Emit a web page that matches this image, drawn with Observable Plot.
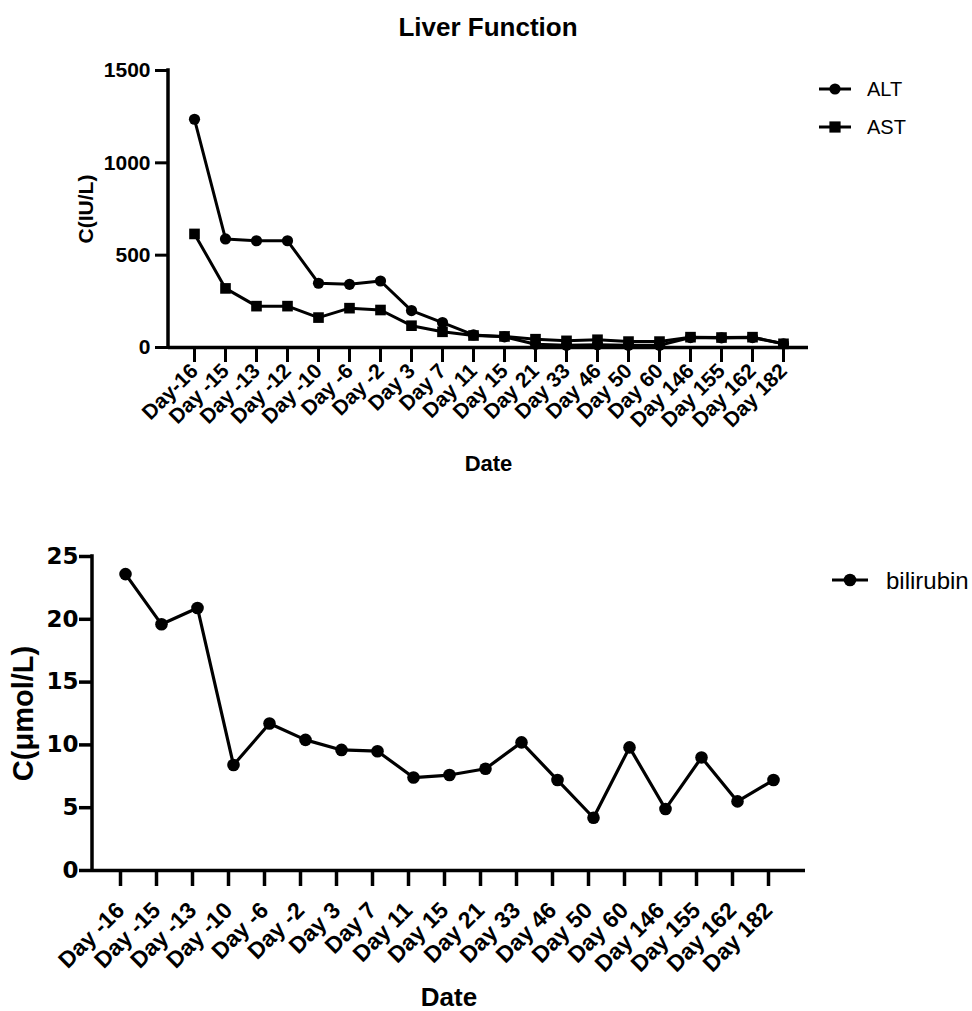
<!DOCTYPE html>
<html>
<head>
<meta charset="utf-8">
<script src="https://cdn.jsdelivr.net/npm/d3@7"></script>
<script src="https://cdn.jsdelivr.net/npm/@observablehq/plot@0.6"></script>
<style>
  body { margin: 0; background: #fff; }
  #root { position: relative; width: 972px; height: 1011px; font-family: "Liberation Sans", Arial, Helvetica, sans-serif; color: #000; overflow: hidden; }
  #title { position: absolute; left: 2px; width: 972px; top: 14px; text-align: center; font-size: 26px; line-height: 1; font-weight: bold; }
  .plot { position: absolute; left: 0; }
  .legend { position: absolute; }
</style>
</head>
<body>
<div id="root">
  <div id="title">Liver Function</div>
</div>
<script>
// ---------- data ----------
const topDates = ["Day-16", "Day -15", "Day -13", "Day -12", "Day -10", "Day -6", "Day -2", "Day 3", "Day 7", "Day 11",
                  "Day 15", "Day 21", "Day 33", "Day 46", "Day 50", "Day 60", "Day 146", "Day 155", "Day 162", "Day 182"];
const altValues = [1236, 588, 578, 578, 348, 342, 360, 200, 135, 68, 58, 18, 12, 15, 12, 12, 54, 52, 54, 20];
const astValues = [615, 320, 224, 224, 162, 213, 203, 118, 85, 65, 60, 45, 36, 42, 32, 32, 56, 54, 56, 20];
const topTicks = [0, 500, 1000, 1500];

const botDates = ["Day -16", "Day -15", "Day -13", "Day -10", "Day -6", "Day -2", "Day 3", "Day 7", "Day 11", "Day 15",
                  "Day 21", "Day 33", "Day 46", "Day 50", "Day 60", "Day 146", "Day 155", "Day 162", "Day 182"];
const biliValues = [23.6, 19.6, 20.9, 8.4, 11.7, 10.4, 9.6, 9.5, 7.4, 7.6, 8.1, 10.2, 7.2, 4.2, 9.8, 4.9, 9.0, 5.5, 7.2];
const botTicks = [0, 5, 10, 15, 20, 25];

const seriesNames = ["ALT", "AST"];
const biliName = "bilirubin";

// ---------- tables ----------
const liver = topDates.flatMap((d, i) => [
  {date: d, series: "ALT", value: altValues[i]},
  {date: d, series: "AST", value: astValues[i]}
]);
const bili = botDates.map((d, i) => ({date: d, value: biliValues[i]}));

const FONT = '"Liberation Sans", Arial, Helvetica, sans-serif';
const WIDE = '"DejaVu Sans", "Liberation Sans", sans-serif';
const root = document.getElementById("root");
const fmt = d => String(d);

// left spine drawn from the frame dimensions
function leftSpine(sw) {
  return (index, scales, values, dims) => {
    const line = document.createElementNS("http://www.w3.org/2000/svg", "line");
    line.setAttribute("x1", dims.marginLeft);
    line.setAttribute("x2", dims.marginLeft);
    line.setAttribute("y1", dims.marginTop);
    line.setAttribute("y2", dims.height - dims.marginBottom);
    line.setAttribute("stroke", "#000");
    line.setAttribute("stroke-width", sw);
    line.setAttribute("stroke-linecap", "square");
    return line;
  };
}

// ---------- top chart ----------
const p1 = Plot.plot({
  width: 972, height: 440,
  marginLeft: 168, marginRight: 164, marginTop: 30, marginBottom: 133,
  style: {fontFamily: FONT, fontSize: "20px", fontWeight: "bold", color: "#000", background: "transparent", overflow: "visible"},
  x: {type: "point", domain: topDates, padding: 0.63},
  y: {domain: [0, 1500]},
  marks: [
    Plot.ruleY([0], {stroke: "#000", strokeWidth: 3.5}),
    leftSpine(3.5),
    Plot.axisY({ticks: topTicks, tickFormat: fmt, tickSize: 13, tickPadding: 5, strokeWidth: 3, fontSize: 21, label: null}),
    Plot.axisY({ticks: [], tickSize: 0, fontSize: 21, label: "C(IU/L)", labelAnchor: "center", labelOffset: 90, labelArrow: "none"}),
    Plot.axisX({tickSize: 15, strokeWidth: 3, tickRotate: -45, tickPadding: 5, fontSize: 21, label: null}),
    Plot.axisX({ticks: [], tickSize: 0, fontSize: 22, label: "Date", labelAnchor: "center", labelOffset: 123}),
    Plot.line(liver, {x: "date", y: "value", z: "series", stroke: "#000", strokeWidth: 3}),
    Plot.dot(liver, {filter: d => d.series === "ALT", x: "date", y: "value", symbol: "circle", r: 5.6, fill: "#000", stroke: "none"}),
    Plot.dot(liver, {filter: d => d.series === "AST", x: "date", y: "value", symbol: "square", r: 6, fill: "#000", stroke: "none"})
  ]
});
p1.classList.add("plot");
p1.style.top = "40px";
root.appendChild(p1);

// ---------- bottom chart ----------
const p2 = Plot.plot({
  width: 972, height: 511,
  marginLeft: 92, marginRight: 167, marginTop: 56, marginBottom: 141,
  style: {fontFamily: FONT, fontSize: "22px", fontWeight: "bold", color: "#000", background: "transparent", overflow: "visible"},
  x: {type: "point", domain: botDates, padding: 0.66},
  y: {domain: [0, 25]},
  marks: [
    Plot.ruleY([0], {stroke: "#000", strokeWidth: 3.5}),
    leftSpine(3.5),
    Plot.axisY({ticks: botTicks, tickFormat: fmt, tickSize: 13, tickPadding: 1, strokeWidth: 3.5, fontSize: 23, fontFamily: WIDE, label: null}),
    Plot.axisY({ticks: [], tickSize: 0, fontSize: 29, label: "C(μmol/L)", labelAnchor: "center", labelOffset: 80, labelArrow: "none"}),
    Plot.axisX({tickSize: 16, strokeWidth: 3.5, tickRotate: -45, tickPadding: 20, dx: -5, fontSize: 23, label: null}),
    Plot.axisX({ticks: [], tickSize: 0, fontSize: 26, label: "Date", labelAnchor: "center", labelOffset: 135}),
    Plot.line(bili, {x: "date", y: "value", stroke: "#000", strokeWidth: 3.2}),
    Plot.dot(bili, {x: "date", y: "value", r: 6.3, fill: "#000", stroke: "none"})
  ]
});
p2.classList.add("plot");
p2.style.top = "500px";
root.appendChild(p2);

// ---------- legends (HTML/SVG, outside the plots) ----------
const NS = "http://www.w3.org/2000/svg";
function legend(left, top, w, h, items, fontSize, lineLen, r) {
  const svg = document.createElementNS(NS, "svg");
  svg.setAttribute("class", "legend");
  svg.setAttribute("width", w);
  svg.setAttribute("height", h);
  svg.style.left = left + "px";
  svg.style.top = top + "px";
  items.forEach((it) => {
    const cy = it.cy;
    const ln = document.createElementNS(NS, "line");
    ln.setAttribute("x1", 0); ln.setAttribute("x2", lineLen);
    ln.setAttribute("y1", cy); ln.setAttribute("y2", cy);
    ln.setAttribute("stroke", "#000"); ln.setAttribute("stroke-width", 3);
    svg.appendChild(ln);
    let m;
    if (it.symbol === "square") {
      m = document.createElementNS(NS, "rect");
      m.setAttribute("x", lineLen / 2 - r); m.setAttribute("y", cy - r);
      m.setAttribute("width", 2 * r); m.setAttribute("height", 2 * r);
    } else {
      m = document.createElementNS(NS, "circle");
      m.setAttribute("cx", lineLen / 2); m.setAttribute("cy", cy); m.setAttribute("r", r);
    }
    m.setAttribute("fill", "#000");
    svg.appendChild(m);
    const t = document.createElementNS(NS, "text");
    t.setAttribute("x", lineLen + it.gap);
    t.setAttribute("y", cy);
    t.setAttribute("dy", "0.36em");
    t.setAttribute("font-family", FONT);
    t.setAttribute("font-size", fontSize);
    t.setAttribute("fill", "#000");
    t.textContent = it.name;
    svg.appendChild(t);
  });
  root.appendChild(svg);
}
legend(819, 60, 153, 90, [
  {name: seriesNames[0], symbol: "circle", cy: 29, gap: 16},
  {name: seriesNames[1], symbol: "square", cy: 67, gap: 16}
], 20, 32, 5.6);
legend(832, 560, 140, 40, [
  {name: biliName, symbol: "circle", cy: 20, gap: 18}
], 24, 36, 6.3);
</script>
</body>
</html>
